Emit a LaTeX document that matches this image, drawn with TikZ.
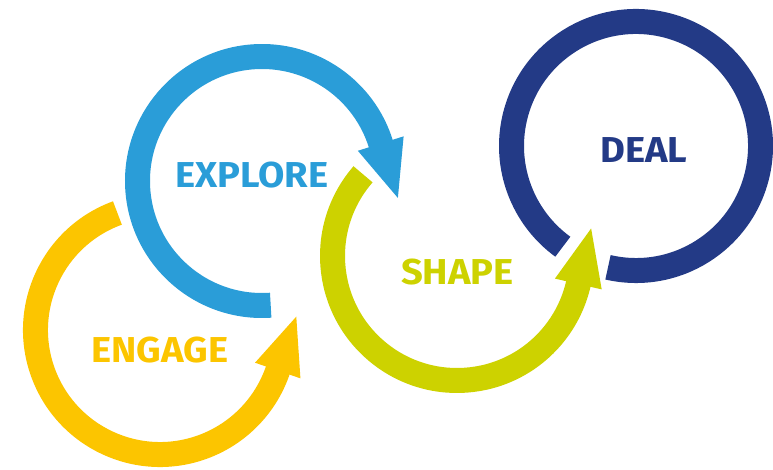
\documentclass[tikz,border=0pt]{standalone}
\usepackage{fontspec}
\setmainfont{Fira Sans}
\newfontfamily\labelfont[FakeStretch=1.06]{Fira Sans}
\usetikzlibrary{calc}
\definecolor{cyel}{RGB}{252,197,0}
\definecolor{cblu}{RGB}{42,157,216}
\definecolor{cgrn}{RGB}{205,210,0}
\definecolor{cnav}{RGB}{35,58,134}
\tikzset{
  ring/.style={line width=25pt, line cap=butt},
  label/.style={font=\labelfont\fontsize{36}{36}\selectfont\bfseries, inner sep=0pt, anchor=center},
}
\newcommand{\ringR}{124.5}
\begin{document}
\begin{tikzpicture}[x=1pt,y=1pt]
\useasboundingbox (0,0) rectangle (773,470);
\coordinate (cy) at (160,140);
\coordinate (cb) at (262,289);
\coordinate (cg) at (457,214);
\coordinate (cn) at (636,324);
% ENGAGE (yellow), ccw from 110 to 341
\draw[ring, cyel] ($(cy)+(110:\ringR)$) arc[start angle=110, end angle=341.5, radius=\ringR];
\fill[cyel] ($(cy)+(341:\ringR+24)$) -- ($(cy)+(341:\ringR)+(431:57)$) -- ($(cy)+(341:\ringR-24)$) -- cycle;
% EXPLORE (blue), cw from -86 to -342.5
\draw[ring, cblu] ($(cb)+(-86:\ringR)$) arc[start angle=-86, end angle=-343, radius=\ringR];
\fill[cblu] ($(cb)+(17.5:\ringR+24)$) -- ($(cb)+(17.5:\ringR)+(-72.5:57)$) -- ($(cb)+(17.5:\ringR-24)$) -- cycle;
% SHAPE (green), ccw from 139 to 347
\draw[ring, cgrn] ($(cg)+(139:\ringR)$) arc[start angle=139, end angle=347.5, radius=\ringR];
\fill[cgrn] ($(cg)+(347:\ringR+24)$) -- ($(cg)+(347:\ringR)+(437:57)$) -- ($(cg)+(347:\ringR-24)$) -- cycle;
% DEAL (navy)
\draw[ring, cnav] ($(cn)+(257:\ringR)$) arc[start angle=257, end angle=594, radius=\ringR];
% labels
\node[label, text=cyel] (engage) at (160,120) {ENGAGE};
\node[label, text=cblu] (explore) at (252,295) {EXPLORE};
\node[label, text=cgrn] (shape) at (457.5,197.5) {SHAPE};
\node[label, text=cnav] (deal) at (644,320) {DEAL};
\end{tikzpicture}
\end{document}
